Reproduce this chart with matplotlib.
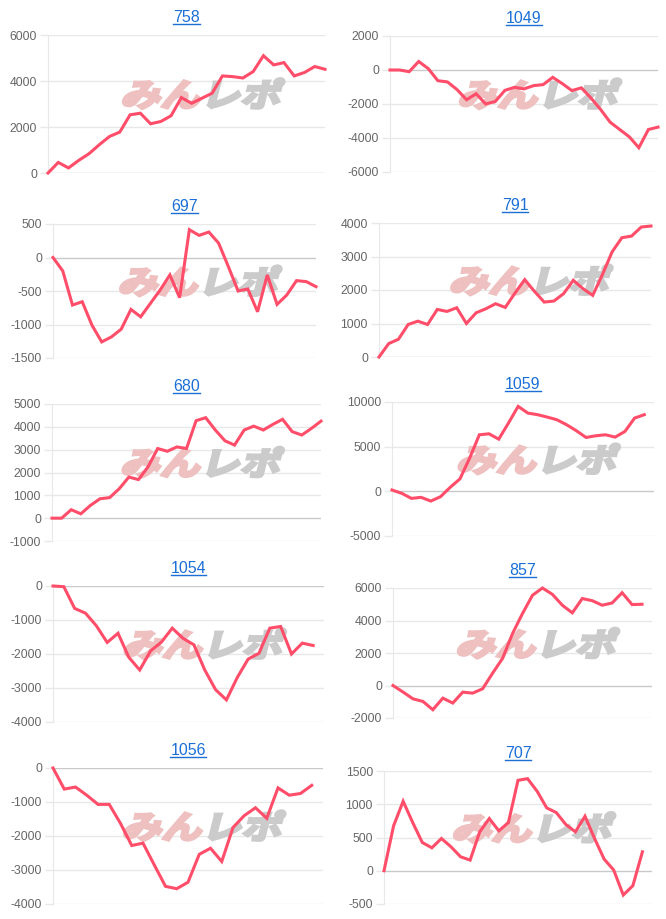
import numpy as np
import matplotlib.pyplot as plt
from matplotlib.font_manager import FontProperties
from matplotlib.textpath import TextPath
from matplotlib.patches import PathPatch
from matplotlib.transforms import Affine2D
from matplotlib.lines import Line2D

plt.rcParams['font.family'] = ['Liberation Sans', 'DejaVu Sans']

titles = ['758', '1049', '697', '791', '680', '1059', '1054', '857', '1056', '707']

v758 = [0, 460, 220, 550, 840, 1230, 1590, 1780, 2530, 2600, 2140, 2240, 2490, 3280,
        3030, 3250, 3470, 4220, 4190, 4130, 4410, 5100, 4700, 4800, 4220, 4370, 4630, 4510]
v1049 = [0, 0, -100, 500, 80, -630, -700, -1150, -1750, -1400, -2000, -1850, -1200, -1020,
         -1110, -920, -860, -430, -800, -1210, -1050, -1650, -2320, -3070, -3500, -3930,
         -4570, -3500, -3360]
v697 = [0, -200, -710, -660, -1010, -1260, -1185, -1070, -775, -885, -685, -485, -260, -600,
        415, 330, 380, 215, -135, -500, -470, -810, -260, -700, -560, -345, -360, -435]
v791 = [0, 400, 530, 970, 1070, 970, 1420, 1360, 1470, 1000, 1320, 1440, 1590, 1480, 1910,
        2310, 1960, 1640, 1670, 1890, 2290, 2040, 1840, 2460, 3140, 3560, 3610, 3880, 3910]
v680 = [0, 0, 370, 190, 560, 850, 900, 1290, 1800, 1690, 2250, 3050, 2930, 3120, 3050, 4270,
        4400, 3860, 3390, 3200, 3860, 4030, 3860, 4110, 4330, 3790, 3640, 3930, 4250]
v1059 = [150, -220, -790, -670, -1090, -600, 450, 1390, 3710, 6330, 6440, 5840, 7640, 9510,
         8760, 8580, 8310, 8010, 7450, 6780, 6030, 6220, 6330, 6070, 6700, 8200, 8580]
v1054 = [0, -20, -660, -800, -1170, -1660, -1390, -2100, -2470, -1910, -1650, -1240, -1540,
         -1730, -2470, -3050, -3350, -2690, -2150, -1980, -1240, -1190, -2000, -1680, -1750]
v857 = [0, -400, -820, -980, -1490, -780, -1080, -410, -470, -200, 760, 1670, 3200, 4430,
        5550, 6000, 5610, 4940, 4470, 5350, 5220, 4940, 5080, 5710, 4980, 5000]
v1056 = [0, -620, -560, -800, -1070, -1070, -1630, -2280, -2210, -2850, -3480, -3550, -3360,
         -2540, -2360, -2750, -1750, -1400, -1170, -1480, -585, -800, -750, -510]
v707 = [0, 675, 1045, 725, 425, 345, 485, 360, 210, 160, 585, 785, 600, 725, 1360, 1385,
        1195, 945, 875, 695, 585, 820, 485, 175, 10, -365, -225, 285]

series = [v758, v1049, v697, v791, v680, v1059, v1054, v857, v1056, v707]
n_labels = [28, 29, 28, 29, 29, 28, 26, 27, 25, 29]
y_ranges = [(0, 6000, 2000), (-6000, 2000, 2000), (-1500, 500, 500), (0, 4000, 1000),
            (-1000, 5000, 1000), (-5000, 10000, 5000), (-4000, 0, 1000), (-2000, 6000, 2000),
            (-4000, 0, 1000), (-500, 1500, 500)]

# plot areas in pixels: left, right, top, bottom
boxes = [(48, 325, 35, 173), (390, 658, 36, 172),
         (53, 316, 224, 358), (379, 651, 223, 357),
         (52, 321, 404, 541), (392, 654, 402, 536),
         (53, 324, 586, 722), (393, 652, 588, 718),
         (53, 323, 768, 904), (384, 652, 771, 904)]

W, H = 666, 919
fig = plt.figure(figsize=(W / 100, H / 100), dpi=100)

line_color = '#ff4d6a'
grid_color = '#e8e8e8'
zero_color = '#c9c9c9'
title_color = '#1b6fd6'

wm_font = FontProperties(family='Noto Sans CJK JP', weight='bold')
wm_a = TextPath((0, 0), 'みん', size=40, prop=wm_font)
wm_b = TextPath((80, 0), 'レポ', size=40, prop=wm_font)

title_texts = []
for i, (vals, n, (ylo, yhi, step), (x0, x1, yt, yb)) in enumerate(
        zip(series, n_labels, y_ranges, boxes)):
    ax = fig.add_axes([x0 / W, 1 - yb / H, (x1 - x0) / W, (yb - yt) / H])
    ax.set_facecolor('none')
    ticks = np.arange(ylo, yhi + step, step)
    for t in ticks:
        ax.axhline(t, color=zero_color if t == 0 else grid_color, lw=1, zorder=0.5)
    # watermark, thickened with a stroke
    cx = x0 + 0.56 * (x1 - x0)
    cy = H - (yb - 0.57 * (yb - yt))
    tr = Affine2D().translate(-80, -15).scale(1.0, 0.8).skew_deg(14, 0).translate(cx, cy)
    for p, c in [(wm_a, '#eec0c0'), (wm_b, '#cbcbcb')]:
        ax.add_artist(PathPatch(p, transform=tr, facecolor=c, edgecolor=c, lw=2.2,
                                joinstyle='miter', zorder=1))
    ax.plot(np.arange(len(vals)), vals, color=line_color, lw=2.2, zorder=3,
            clip_on=False, solid_joinstyle='miter')
    ax.set_xlim(0, n - 1)
    ax.set_ylim(ylo, yhi)
    ax.set_yticks(ticks)
    ax.set_yticklabels([str(int(t)) for t in ticks])
    ax.set_xticks([])
    for s in ['top', 'right', 'bottom']:
        ax.spines[s].set_visible(False)
    ax.spines['left'].set_color(grid_color)
    ax.tick_params(axis='y', length=6, width=1, color=grid_color, pad=2,
                   labelsize=8.8, labelcolor='#666666')
    tt = fig.text((x0 + x1) / 2 / W, 1 - (yt - 17.5) / H, titles[i], ha='center',
                  va='center', fontsize=11.5, color=title_color)
    title_texts.append(tt)

fig.canvas.draw()
r = fig.canvas.get_renderer()
for tt in title_texts:
    bb = tt.get_window_extent(r)
    y = (bb.y0 + 1) / H
    fig.add_artist(Line2D([bb.x0 / W, bb.x1 / W], [y, y], color=title_color, lw=1.0,
                          transform=fig.transFigure))

fig.savefig('out.png', dpi=100)
